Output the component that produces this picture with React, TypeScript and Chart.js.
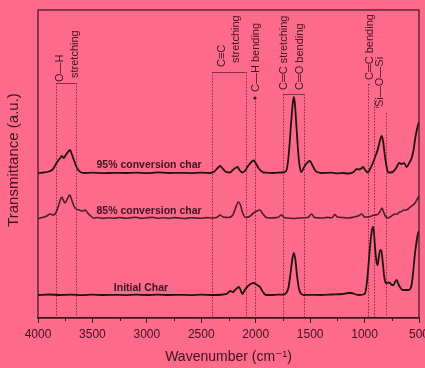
import { useEffect, useRef } from "react";
import { Chart, registerables } from "chart.js";

Chart.register(...registerables);

// ---- data (wavenumber in cm^-1, transmittance in arbitrary units) ----
const xTickValues = [4000, 3500, 3000, 2500, 2000, 1500, 1000, 500];
const xMinorTicks = [3750, 3250, 2750, 2250, 1750, 1250, 750];

const initialChar: [number, number][] = [
  [4000, 23], [3900, 23.5], [3800, 23], [3700, 23.3], [3600, 22.8], [3500, 23.4], [3400, 23], [3300, 23.2],
  [3200, 22.9], [3100, 23.3], [3000, 23], [2900, 23.4], [2800, 23], [2700, 23.2], [2600, 22.9], [2500, 23.3],
  [2400, 23], [2300, 23.5], [2260, 24.5], [2236, 27], [2210, 26], [2190, 28], [2170, 30], [2154, 31],
  [2135, 27], [2123, 24], [2100, 28], [2070, 32], [2040, 34.5], [2022, 35], [2000, 34], [1980, 32.5],
  [1960, 31], [1945, 28], [1920, 24], [1900, 23], [1850, 23], [1800, 23.3], [1750, 23.3], [1720, 25],
  [1700, 30], [1680, 45], [1665, 58], [1650, 65], [1635, 58], [1620, 42], [1600, 28], [1580, 24],
  [1560, 23], [1500, 23.2], [1400, 23], [1300, 23.5], [1200, 24], [1150, 25], [1120, 25], [1080, 23.5],
  [1050, 23], [1000, 24], [985, 30], [970, 45], [955, 65], [940, 82], [925, 91], [915, 87],
  [905, 72], [890, 56], [880, 53], [870, 60], [855, 68], [845, 67], [835, 58], [820, 42],
  [805, 35], [795, 35], [780, 35.5], [765, 35], [750, 33], [735, 33], [720, 36], [705, 38],
  [690, 34], [670, 30], [650, 28], [630, 28], [600, 28], [580, 29], [565, 35], [550, 50],
  [535, 66], [520, 78], [510, 84], [500, 87],
];

const conversion85: [number, number][] = [
  [4000, 99.5], [3960, 100.5], [3920, 102], [3890, 104], [3860, 103], [3840, 104.5], [3815, 111], [3795, 118],
  [3782, 121], [3768, 118], [3752, 115], [3735, 118], [3718, 122], [3706, 123], [3690, 118], [3670, 112],
  [3650, 109], [3620, 108], [3590, 107], [3568, 108], [3540, 104.5], [3510, 101.5], [3490, 100], [3450, 100.5],
  [3400, 99.6], [3350, 100.3], [3300, 99.8], [3250, 100.5], [3200, 99.7], [3150, 100.2], [3100, 100.8], [3050, 99.6],
  [3000, 100.2], [2950, 100.7], [2900, 99.8], [2850, 100.3], [2800, 99.6], [2750, 100.4], [2700, 100], [2650, 99.5],
  [2600, 100.3], [2550, 100], [2500, 99.7], [2450, 100.4], [2400, 100], [2350, 101], [2328, 103], [2300, 101],
  [2250, 100.5], [2210, 103], [2185, 110], [2160, 116], [2140, 113], [2120, 105], [2090, 100.5], [2050, 102],
  [2020, 105], [1990, 107], [1961, 108], [1940, 105], [1910, 101], [1880, 100], [1800, 100.5], [1762, 103],
  [1740, 100.5], [1700, 100], [1650, 99.5], [1600, 100], [1520, 100.5], [1486, 104], [1460, 100.5], [1400, 100],
  [1340, 100.6], [1300, 100.2], [1272, 103.5], [1250, 101], [1200, 100.5], [1150, 100], [1100, 101], [1060, 102],
  [1026, 104], [1000, 101], [970, 101], [940, 102], [910, 103], [880, 103.5], [860, 106], [840, 110],
  [825, 106], [810, 102], [785, 100], [760, 101.5], [740, 103], [720, 104], [700, 104], [680, 106],
  [660, 106.5], [640, 108], [620, 108], [600, 109], [580, 111], [560, 112.5], [540, 114.5], [520, 118],
  [500, 122],
];

const conversion95: [number, number][] = [
  [4000, 145], [3950, 145.5], [3900, 146.5], [3870, 148], [3850, 151], [3830, 155], [3810, 158], [3790, 161],
  [3782, 162], [3765, 160], [3745, 163], [3725, 166], [3706, 168], [3690, 164], [3670, 158], [3650, 152],
  [3630, 148], [3610, 146], [3580, 145], [3500, 145.3], [3400, 144.8], [3300, 145.2], [3200, 145], [3100, 145.4],
  [3000, 144.8], [2900, 145.6], [2800, 145], [2700, 145.2], [2600, 144.9], [2500, 145.3], [2420, 145], [2380, 146.5],
  [2350, 150], [2328, 152], [2300, 149], [2270, 146], [2236, 145.5], [2210, 148], [2180, 150.5], [2165, 151],
  [2150, 148], [2120, 145.5], [2100, 147], [2070, 152], [2040, 156], [2020, 157.5], [2000, 155], [1975, 150],
  [1950, 147], [1930, 145.5], [1900, 145.3], [1850, 145], [1800, 145.4], [1760, 145.5], [1720, 147], [1705, 155],
  [1690, 172], [1675, 195], [1660, 214], [1650, 221], [1640, 214], [1625, 190], [1610, 166], [1595, 151],
  [1580, 146], [1560, 150], [1530, 155], [1502, 157], [1480, 153], [1450, 147], [1420, 145.5], [1400, 145],
  [1300, 145.3], [1250, 144.6], [1200, 145], [1150, 144.5], [1100, 146], [1072, 149], [1050, 148.5], [1030, 149.5],
  [1014, 151], [995, 148], [970, 145.5], [945, 150], [920, 156], [900, 162], [880, 168], [860, 177],
  [843, 182], [830, 177], [812, 161], [795, 150], [782, 145.5], [760, 145.5], [736, 146.5], [710, 150],
  [681, 155], [660, 154], [638, 155], [613, 151], [590, 155], [567, 160], [550, 168], [537, 178],
  [520, 188], [506, 194], [500, 196],
];

const seriesNames = ["Initial Char", "85% conversion char", "95% conversion char"];
// label anchor: [wavenumber of centre, value]
const seriesLabelPos: [number, number][] = [[3054, 30], [2980, 107], [2980, 153]];

// dotted guide lines: [wavenumber, top value]
const guideLines: [number, number][] = [
  [3835, 235], [3648, 235], [2398, 246], [2092, 246], [2007, 220],
  [1747, 224], [1557, 224], [966, 234], [911, 218], [806, 205],
];
// bracket bars: [from wavenumber, to wavenumber, value]
const brackets: [number, number, number][] = [
  [3835, 3648, 235], [2398, 2092, 246], [1747, 1557, 224], [966, 950, 234], [900, 868, 211],
];
const markerDots: [number, number][] = [[2007, 220]];
// band labels: [text, wavenumber of centre, value at text start]
const bandLabels: [string, number, number][] = [
  ["O—H", 3798, 236], ["stretching", 3660, 240],
  ["C≡C", 2310, 251], ["stretching", 2181, 255],
  ["C—H bending", 1997, 226],
  ["C═C stretching", 1740, 228], ["C═O bending", 1593, 228],
  ["C═C bending", 950, 238], ["Si—O—Si", 858, 211],
];

const xTitle = "Wavenumber (cm⁻¹)";
const yTitle = "Transmittance (a.u.)";

const BG = "#fe6a8a";
const INK = "#3a1520";
const FONT = "Arial, 'Liberation Sans', 'DejaVu Sans', sans-serif";

const decorPlugin = {
  id: "decor",
  beforeDraw(chart: any) {
    const { ctx, width, height } = chart;
    ctx.save();
    ctx.fillStyle = BG;
    ctx.fillRect(0, 0, width, height);
    ctx.restore();
  },
  beforeDatasetsDraw(chart: any) {
    const { ctx, chartArea } = chart;
    const x = chart.scales.x;
    const y = chart.scales.y;
    ctx.save();
    ctx.strokeStyle = "#6a2038";
    ctx.lineWidth = 0.8;
    ctx.setLineDash([1.5, 1.5]);
    for (const [w, top] of guideLines) {
      const px = Math.round(x.getPixelForValue(w)) + 0.5;
      ctx.beginPath();
      ctx.moveTo(px, y.getPixelForValue(top));
      ctx.lineTo(px, chartArea.bottom);
      ctx.stroke();
    }
    ctx.setLineDash([]);
    ctx.lineWidth = 0.8;
    for (const [a, b, v] of brackets) {
      const py = Math.round(y.getPixelForValue(v)) + 0.5;
      ctx.beginPath();
      ctx.moveTo(x.getPixelForValue(a), py);
      ctx.lineTo(x.getPixelForValue(b), py);
      ctx.stroke();
    }
    ctx.fillStyle = INK;
    for (const [w, v] of markerDots) {
      ctx.beginPath();
      ctx.arc(x.getPixelForValue(w), y.getPixelForValue(v), 1.6, 0, Math.PI * 2);
      ctx.fill();
    }
    ctx.restore();
  },
  afterDraw(chart: any) {
    const { ctx, chartArea } = chart;
    const x = chart.scales.x;
    const y = chart.scales.y;
    ctx.save();
    // frame
    ctx.strokeStyle = INK;
    ctx.lineWidth = 1.2;
    ctx.strokeRect(chartArea.left, chartArea.top, chartArea.right - chartArea.left, chartArea.bottom - chartArea.top);
    // minor ticks
    ctx.lineWidth = 1;
    for (const w of xMinorTicks) {
      const px = Math.round(x.getPixelForValue(w)) + 0.5;
      ctx.beginPath();
      ctx.moveTo(px, chartArea.bottom);
      ctx.lineTo(px, chartArea.bottom + 3);
      ctx.stroke();
    }
    // band labels
    ctx.fillStyle = INK;
    ctx.font = `11px ${FONT}`;
    ctx.textAlign = "left";
    ctx.textBaseline = "middle";
    for (const [t, w, v] of bandLabels) {
      ctx.save();
      ctx.translate(x.getPixelForValue(w), y.getPixelForValue(v));
      ctx.rotate(-Math.PI / 2);
      ctx.fillText(t, 0, 0);
      ctx.restore();
    }
    // series labels
    ctx.font = `bold 10.5px ${FONT}`;
    ctx.textAlign = "center";
    seriesNames.forEach((n, i) => {
      const [w, v] = seriesLabelPos[i];
      ctx.fillText(n, x.getPixelForValue(w), y.getPixelForValue(v));
    });
    // axis titles
    ctx.font = `14px ${FONT}`;
    ctx.fillText(xTitle, (chartArea.left + chartArea.right) / 2, 357);
    ctx.save();
    ctx.font = `15px ${FONT}`;
    ctx.translate(14, 160);
    ctx.rotate(-Math.PI / 2);
    ctx.fillText(yTitle, 0, 0);
    ctx.restore();
    ctx.restore();
  },
};

export default function App() {
  const ref = useRef<HTMLCanvasElement>(null);
  useEffect(() => {
    const toPts = (arr: [number, number][]) => arr.map(([x, y]) => ({ x, y }));
    const chart = new Chart(ref.current!, {
      type: "line",
      data: {
        datasets: [
          { label: seriesNames[0], data: toPts(initialChar), borderColor: "#231215", borderWidth: 1.8 },
          { label: seriesNames[1], data: toPts(conversion85), borderColor: "#4a1f2c", borderWidth: 1.6 },
          { label: seriesNames[2], data: toPts(conversion95), borderColor: "#231215", borderWidth: 1.8 },
        ].map((d) => ({ ...d, pointRadius: 0, cubicInterpolationMode: "monotone" as const, fill: false })),
      },
      options: {
        animation: false,
        responsive: false,
        devicePixelRatio: 1,
        layout: { padding: { left: 38, right: 21, top: 10, bottom: 0 } },
        plugins: { legend: { display: false }, tooltip: { enabled: false } },
        scales: {
          x: {
            type: "linear",
            reverse: true,
            min: 500,
            max: 4000,
            afterBuildTicks: (s: any) => { s.ticks = xTickValues.map((v) => ({ value: v })); },
            afterFit: (s: any) => { s.height = 50; },
            ticks: {
              callback: (v: any) => String(v),
              color: INK,
              font: { family: FONT, size: 12 },
              maxRotation: 0,
              autoSkip: false,
              padding: 4,
            },
            grid: { drawOnChartArea: false, drawTicks: true, tickLength: 5, color: INK, lineWidth: 1 },
            border: { display: true, color: INK, width: 1.2 },
          },
          y: { display: false, min: 0, max: 308 },
        },
      },
      plugins: [decorPlugin],
    });
    return () => chart.destroy();
  }, []);
  return (
    <div style={{ position: "fixed", left: 0, top: 0, width: 425, height: 368, overflow: "hidden", background: BG }}>
      <canvas ref={ref} width={440} height={368} style={{ display: "block" }} />
    </div>
  );
}
